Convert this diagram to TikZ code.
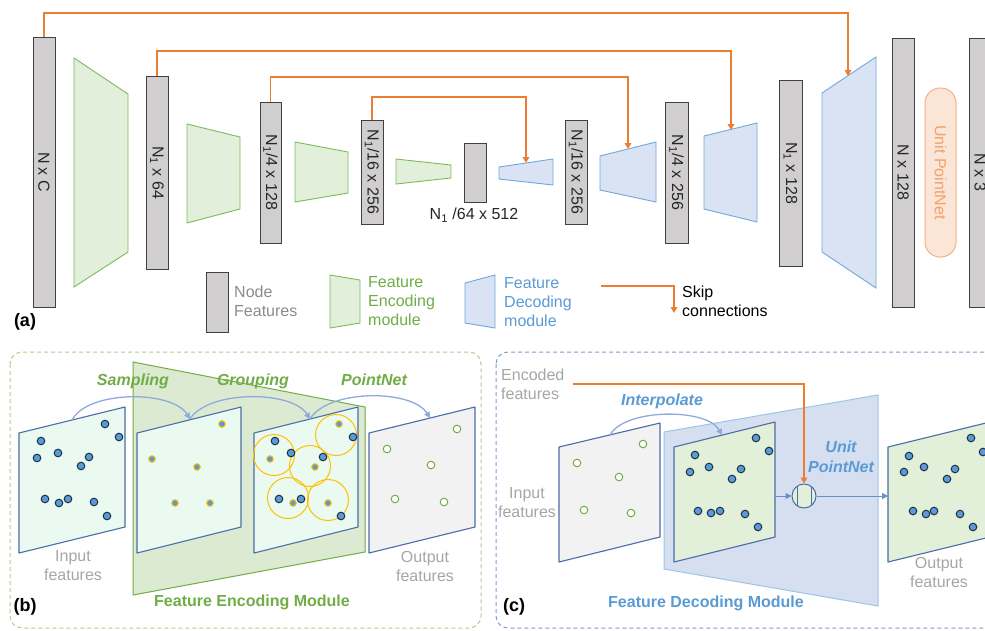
\documentclass[tikz,border=0pt]{standalone}
\usepackage{fontspec}
\setmainfont{Liberation Sans}
\usetikzlibrary{arrows.meta}
\definecolor{orng}{HTML}{ED7D31}
\definecolor{barfill}{HTML}{D0CECE}
\definecolor{bardraw}{HTML}{404040}
\definecolor{txtdark}{HTML}{262626}
\definecolor{encfill}{HTML}{E2EFDA}
\definecolor{encdraw}{HTML}{7DBB5A}
\definecolor{decfill}{HTML}{DAE3F3}
\definecolor{decdraw}{HTML}{6FA8DC}
\definecolor{txtgreen}{HTML}{70AD47}
\definecolor{txtblue}{HTML}{5B9BD5}
\definecolor{graytxt}{HTML}{8C8C8C}
\definecolor{lgtxt}{HTML}{A6A6A6}
\definecolor{pnl}{HTML}{4A6DA7}
\definecolor{mint}{HTML}{EBFAF1}
\definecolor{ltgray}{HTML}{F2F2F2}
\definecolor{ltgreen}{HTML}{E2F0D9}
\definecolor{dotblue}{HTML}{5B9BD5}
\definecolor{dotdraw}{HTML}{1F2D44}
\definecolor{yel}{HTML}{FFC000}
\definecolor{arcblue}{HTML}{8FAADC}
\definecolor{pillfill}{HTML}{FBE5D6}
\definecolor{pilldraw}{HTML}{F4B183}
\definecolor{pilltxt}{HTML}{F4A06A}
\definecolor{bframe}{HTML}{A9D18E}
\definecolor{cframe}{HTML}{7F9FD0}
\definecolor{bigenc}{HTML}{DCEAD2}
\definecolor{bigdec}{HTML}{D5DFF0}
\definecolor{bigdecdraw}{HTML}{9DC3E6}
\definecolor{flowblue}{HTML}{4472C4}
\begin{document}
\begin{tikzpicture}[x=1pt,y=-1pt,
  barbox/.style={draw=bardraw, fill=barfill, line width=1pt, minimum width=22pt, inner sep=0pt, outer sep=0pt},
  blab/.style={rotate=-90, inner sep=0pt, text=txtdark, font=\fontsize{16}{19}\selectfont},
  enc/.style={draw=encdraw, fill=encfill, line width=0.9pt},
  dec/.style={draw=decdraw, fill=decfill, line width=0.9pt},
  skiparrow/.style={draw=orng, line width=1.6pt, -{Triangle[length=6pt,width=6.5pt]}},
  pnlstyle/.style={draw=pnl, line width=1.1pt, line join=round},
  bdot/.style={fill=dotblue, draw=dotdraw, line width=1pt},
  sdot/.style={fill=dotblue, draw=yel, line width=1pt},
  gdot/.style={fill=white, draw=txtgreen, line width=1pt},
  grpcircle/.style={draw=yel, line width=1pt},
  arcarrow/.style={draw=arcblue, line width=1.3pt, -{Triangle[length=6pt,width=6pt]}},
  flowarrow/.style={draw=flowblue!80, line width=1pt, -{Triangle[length=6pt,width=6pt]}},
  steplab/.style={font=\fontsize{16}{19}\selectfont\bfseries\itshape, inner sep=0pt},
  graylab/.style={text=lgtxt, align=center, font=\fontsize{16}{19}\selectfont, inner sep=0pt},
  leglab/.style={align=left, anchor=west, font=\fontsize{16}{19}\selectfont, inner sep=0pt},
  panlab/.style={font=\fontsize{18}{20}\selectfont\bfseries, text=black, inner sep=0pt},
  modlab/.style={font=\fontsize{16}{19}\selectfont\bfseries, inner sep=0pt}
]
\useasboundingbox (0,0) rectangle (985,630);
\fill[white] (0,0) rectangle (985,630);

% ---------------- (a) ----------------
% trapezoids (encoding)
\draw[enc] (74,58) -- (128,94) -- (128,252) -- (74,287) -- cycle;
\draw[enc] (187,124) -- (240,137) -- (240,209) -- (187,223) -- cycle;
\draw[enc] (295,142) -- (348,152) -- (348,193) -- (295,202) -- cycle;
\draw[enc] (396,159) -- (451,165) -- (451,178) -- (396,184) -- cycle;
% trapezoids (decoding)
\draw[dec] (499,167) -- (553,159) -- (553,185) -- (499,179) -- cycle;
\draw[dec] (600,156) -- (656,142) -- (656,202) -- (600,190) -- cycle;
\draw[dec] (704,136) -- (757,123) -- (757,222) -- (704,209) -- cycle;
\draw[dec] (822,93) -- (876,57) -- (876,288) -- (822,252) -- cycle;

% bars
\node[barbox, minimum height=270pt] (b1) at (44,172) {};
\node[barbox, minimum height=193pt] (b2) at (157,172.5) {};
\node[barbox, minimum width=21pt, minimum height=141pt] (b3) at (270.5,172.5) {};
\node[barbox, minimum height=104pt] (b4) at (372,172) {};
\node[barbox, minimum height=59pt] (b5) at (475,172.5) {};
\node[barbox, minimum height=104pt] (b6) at (576,172) {};
\node[barbox, minimum width=23pt, minimum height=141pt] (b7) at (676.5,172.5) {};
\node[barbox, minimum width=23pt, minimum height=186pt] (b8) at (790.5,173) {};
\node[barbox, minimum height=269pt] (b9) at (903,172.5) {};
\node[barbox, minimum height=269pt] (b10) at (980,172.5) {};
\node[draw=pilldraw, fill=pillfill, line width=1pt, rounded corners=15pt, minimum width=31pt, minimum height=169pt, inner sep=0pt] (pill) at (940.5,172.5) {};

\node[blab] (t1) at (b1.center) {N x C};
\node[blab] (t2) at (b2.center) {N\textsubscript{1} x 64};
\node[blab] (t3) at (b3.center) {N\textsubscript{1}/4 x 128};
\node[blab] (t4) at (b4.center) {N\textsubscript{1}/16 x 256};
\node[text=txtdark, font=\fontsize{16}{19}\selectfont, inner sep=0pt] (t5) at (474,215) {N\textsubscript{1} /64 x 512};
\node[blab] (t6) at (b6.center) {N\textsubscript{1}/16 x 256};
\node[blab] (t7) at (b7.center) {N\textsubscript{1}/4 x 256};
\node[blab] (t8) at (b8.center) {N\textsubscript{1} x 128};
\node[blab] (t9) at (b9.center) {N x 128};
\node[blab] (t10) at (b10.center) {N x 3};
\node[blab, text=pilltxt] (tp) at (pill.center) {Unit PointNet};

% skip connections
\coordinate (h1) at (0,13);
\coordinate (h2) at (0,51);
\coordinate (h3) at (0,77);
\coordinate (h4) at (0,97);
\coordinate (s1) at (848,76);
\coordinate (s2) at (731,130);
\coordinate (s3) at (628,149);
\coordinate (s4) at (526,163);
\draw[skiparrow] (b1.north) -- (b1.north |- h1) -| (s1);
\draw[skiparrow] (b2.north) -- (b2.north |- h2) -| (s2);
\draw[skiparrow] (b3.north) -- (b3.north |- h3) -| (s3);
\draw[skiparrow] (b4.north) -- (b4.north |- h4) -| (s4);

% legend
\node[barbox, minimum height=60pt] (lg1) at (217.5,302) {};
\node[leglab, text=graytxt] (lgt1) at (234,301) {Node\\Features};
\draw[enc] (330,275) -- (360,280) -- (360,323) -- (330,328) -- cycle;
\node[leglab, text=txtgreen] (lgt2) at (368,301) {Feature\\Encoding\\module};
\draw[dec] (465,283) -- (495,275) -- (495,328) -- (465,323) -- cycle;
\node[leglab, text=txtblue] (lgt3) at (504,302) {Feature\\Decoding\\module};
\coordinate (k0) at (601,286);
\coordinate (k1) at (674,313);
\draw[skiparrow] (k0) -| (k1);
\node[leglab, text=black] (lgt4) at (682,301) {Skip\\connections};
\node[panlab] (pa) at (25,322) {(a)};

% ---------------- (b) ----------------
\draw[draw=bframe, line width=1pt, dash pattern=on 4pt off 3pt, rounded corners=12pt] (10,352) rectangle (481,628);
\draw[draw=txtgreen, fill=bigenc, line width=1pt] (133,362) -- (365,407) -- (365,552) -- (133,595) -- cycle;

% panel 1 (input)
\begin{scope}[shift={(19,433)}]
\draw[pnlstyle, fill=mint] (0,0) -- (106,-26) -- (106,94) -- (0,120) -- cycle;
\foreach \x/\y in {22/8, 86/-9, 100/4, 18/25, 39/20, 70/24, 62/33, 26/66, 40/70, 49/66, 75/69, 88/83}
  \draw[bdot] (\x,\y) circle[radius=3.8pt];
\end{scope}
% panel 2 (sampling)
\begin{scope}[shift={(137,433)}]
\draw[pnlstyle, fill=mint] (0,0) -- (104,-26) -- (104,94) -- (0,120) -- cycle;
\foreach \x/\y in {85/-9, 15/26, 60/34, 38/70, 73/70}
  \draw[sdot] (\x,\y) circle[radius=3.3pt];
\end{scope}
% panel 3 (grouping)
\begin{scope}[shift={(254,433)}]
\draw[pnlstyle, fill=mint] (0,0) -- (104,-26) -- (104,94) -- (0,120) -- cycle;
\foreach \x/\y in {82/2, 20/22, 56/33, 34/65, 74/67}
  \draw[grpcircle] (\x,\y) circle[radius=20.5pt];
\foreach \x/\y in {85/-9, 16/26, 61/34, 39/70, 74/70}
  \draw[sdot] (\x,\y) circle[radius=3.3pt];
\foreach \x/\y in {21/8, 99/4, 37/20, 69/24, 25/66, 47/66, 87/83}
  \draw[bdot] (\x,\y) circle[radius=3.8pt];
\end{scope}
% panel 4 (output)
\begin{scope}[shift={(369,433)}]
\draw[pnlstyle, fill=ltgray] (0,0) -- (106,-26) -- (106,94) -- (0,120) -- cycle;
\foreach \x/\y in {88/-4, 18/16, 62/32, 26/66, 75/69}
  \draw[gdot] (\x,\y) circle[radius=3.8pt];
\end{scope}

% arcs
\coordinate (a0) at (72,420);
\coordinate (a1) at (190,419);
\coordinate (a2) at (310,419);
\coordinate (a3) at (430,418);
\draw[arcarrow] (a0) .. controls (88,390) and (172,390) .. (a1);
\draw[arcarrow] (a1) .. controls (208,390) and (292,390) .. (a2);
\draw[arcarrow] (a2) .. controls (328,389) and (412,389) .. (a3);
\node[steplab, text=txtgreen] (ls) at (133,381) {Sampling};
\node[steplab, text=txtgreen] (lgp) at (253,381) {Grouping};
\node[steplab, text=txtgreen] (lpn) at (374,380) {PointNet};
\node[graylab] (lin) at (73,566) {Input\\features};
\node[graylab] (lout) at (425,566) {Output\\features};
\node[modlab, text=txtgreen] (lfe) at (252,602) {Feature Encoding Module};
\node[panlab] (pb) at (25,607) {(b)};

% ---------------- (c) ----------------
\draw[draw=cframe, line width=1pt, dash pattern=on 4pt off 3pt, rounded corners=12pt] (496,352) rectangle (1010,628);
\draw[draw=bigdecdraw, fill=bigdec, line width=1pt] (664,432) -- (878,395) -- (878,606) -- (664,569) -- cycle;

% input panel
\begin{scope}[shift={(559,447)}]
\draw[pnlstyle, fill=ltgray] (0,0) -- (101,-24) -- (101,90) -- (0,115) -- cycle;
\foreach \x/\y in {18/16, 84/-3, 60/30, 25/63, 72/66}
  \draw[gdot] (\x,\y) circle[radius=3.8pt];
\end{scope}
% middle panel
\begin{scope}[shift={(674,447)}]
\draw[pnlstyle, fill=ltgreen] (0,0) -- (101,-25) -- (101,90) -- (0,115) -- cycle;
\foreach \x/\y in {21/8, 16/25, 35/20, 58/32, 67/22, 82/-9, 95/4, 24/64, 37/66, 46/64, 71/67, 84/80}
  \draw[bdot] (\x,\y) circle[radius=3.8pt];
\end{scope}
% output panel
\begin{scope}[shift={(888,447)}]
\draw[pnlstyle, fill=ltgreen] (0,0) -- (102,-25) -- (102,90) -- (0,115) -- cycle;
\foreach \x/\y in {21/9, 16/25, 36/20, 59/32, 67/22, 83/-9, 95/5, 25/64, 38/67, 46/64, 72/67, 85/80}
  \draw[bdot] (\x,\y) circle[radius=3.8pt];
\end{scope}

% unit pointnet circle
\node[circle, draw=pnl, fill=ltgreen, line width=1pt, minimum size=24pt, inner sep=0pt,
  path picture={\draw[pnl, line width=0.8pt] ([xshift=-7pt,yshift=-14pt]path picture bounding box.center) -- ++(0,28pt);
                \draw[pnl, line width=0.8pt] ([xshift=7pt,yshift=-14pt]path picture bounding box.center) -- ++(0,28pt);}] (u) at (804,496) {};
\coordinate (e0) at (573,384);
\draw[skiparrow] (e0) -| (u.north);
\coordinate (m1) at (775,496);
\coordinate (o1) at (888,496);
\draw[flowarrow] (m1) -- (u.west);
\draw[flowarrow] (u.east) -- (o1);

\coordinate (c0) at (610,435);
\coordinate (c1) at (722,435);
\draw[arcarrow] (c0) .. controls (625,408) and (707,408) .. (c1);

\node[steplab, text=txtblue] (lip) at (662,401) {Interpolate};
\node[steplab, text=txtblue, align=center, font=\fontsize{16}{20}\selectfont\bfseries\itshape] (lup) at (841,457) {Unit\\PointNet};
\node[graylab, align=left, anchor=west] (lenc) at (501,384) {Encoded\\features};
\node[graylab] (lin2) at (527,503) {Input\\features};
\node[graylab] (lout2) at (939,572) {Output\\features};
\node[modlab, text=txtblue] (lfd) at (706,603) {Feature Decoding Module};
\node[panlab] (pc) at (514,607) {(c)};
\end{tikzpicture}
\end{document}
